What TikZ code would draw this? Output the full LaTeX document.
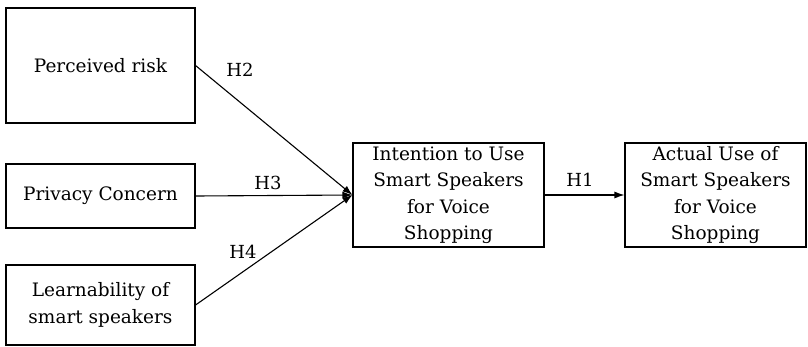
\documentclass[tikz,border=0pt]{standalone}
\usepackage{fontspec}
\setmainfont{DejaVu Serif}
\usetikzlibrary{arrows.meta}
\begin{document}
\begin{tikzpicture}[x=1pt,y=-1pt,
  box/.style={draw,line width=1.1pt,inner sep=0pt,align=center,font=\fontsize{18.5}{26.5}\selectfont},
  conn/.style={line width=1.1pt,-{Latex[length=10pt,width=7pt]}},
  lab/.style={font=\fontsize{18}{20}\selectfont}]
\useasboundingbox (0,0) rectangle (808,346);
\node[box,minimum width=189pt,minimum height=115pt] (pr) at (100.5,65.5) {Perceived risk};
\node[box,minimum width=189pt,minimum height=64pt] (pc) at (100.5,196) {Privacy Concern};
\node[box,minimum width=189pt,minimum height=80pt] (ls) at (100.5,305) {Learnability of\\smart speakers};
\node[box,minimum width=191pt,minimum height=104pt] (iu) at (448.5,195) {Intention to Use\\Smart Speakers\\for Voice\\Shopping};
\node[box,minimum width=181pt,minimum height=104pt] (au) at (715.5,195) {Actual Use of\\Smart Speakers\\for Voice\\Shopping};
\coordinate (m) at (iu.west);
\draw[conn] (pr.east) -- (m);
\draw[conn] (pc.east) -- (m);
\draw[conn] (ls.east) -- (m);
\draw[conn] (iu.east) -- (au.west);
\node[lab] (h2) at (240,70) {H2};
\node[lab] (h3) at (268,183) {H3};
\node[lab] (h4) at (243,252) {H4};
\node[lab] (h1) at (580,180) {H1};
\end{tikzpicture}
\end{document}
